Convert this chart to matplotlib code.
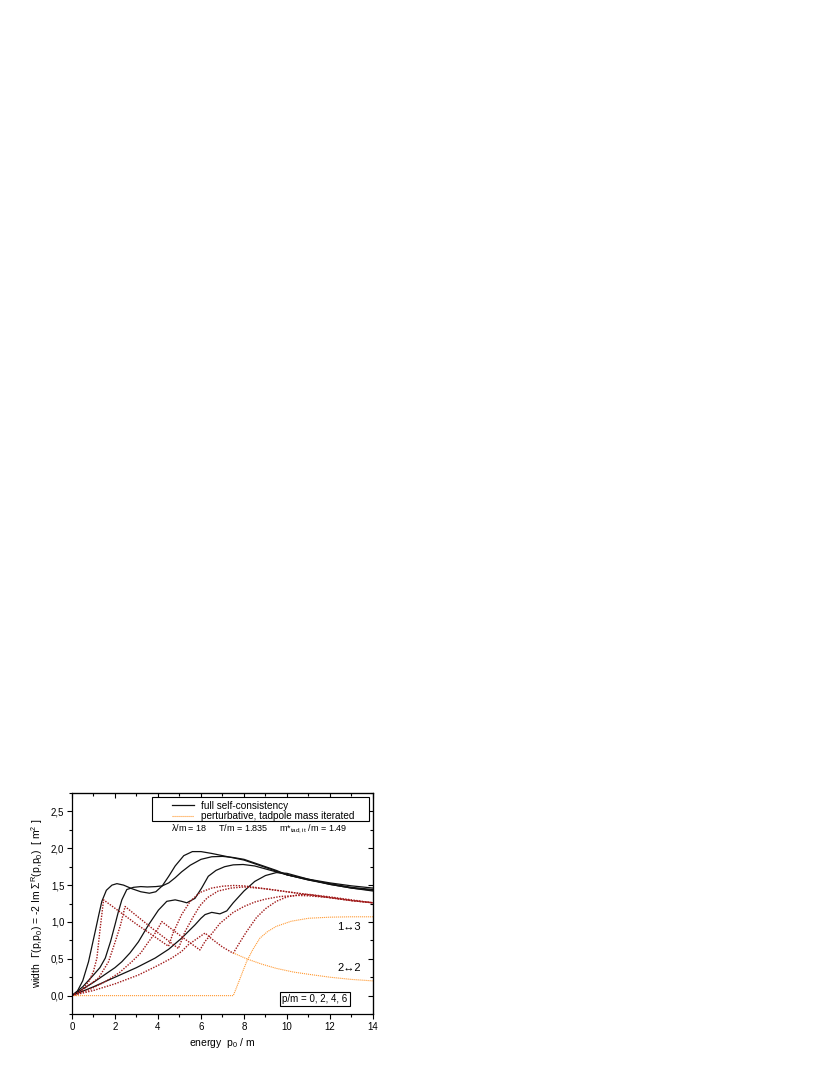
import numpy as np
import matplotlib.pyplot as plt
from matplotlib.patches import Rectangle
from matplotlib.ticker import MultipleLocator, FuncFormatter

plt.rcParams['font.family'] = ['Liberation Sans', 'DejaVu Sans']
plt.rcParams['mathtext.default'] = 'regular'

# full self-consistency, p/m = 0, 2, 4, 6
x_sc0 = [0, 0.25, 0.5, 0.77, 1.08, 1.25, 1.39, 1.6, 1.86, 2.09, 2.4, 2.8, 3.2, 3.6, 3.9, 4.2, 4.5, 4.8, 5.2, 5.6,
         6.0, 6.5, 7, 7.5, 8, 8.5, 9, 9.5, 10, 11, 12, 13, 14]
y_sc0 = [0, 0.06, 0.20, 0.46, 0.87, 1.10, 1.28, 1.43, 1.50, 1.52, 1.50, 1.45, 1.41, 1.39, 1.41, 1.49, 1.62, 1.76, 1.90, 1.955,
         1.955, 1.93, 1.90, 1.87, 1.84, 1.79, 1.74, 1.69, 1.64, 1.58, 1.53, 1.49, 1.46]
x_sc2 = [0, 0.5, 1.0, 1.3, 1.55, 1.8, 2.0, 2.15, 2.32, 2.55, 2.86, 3.2, 3.5, 3.9, 4.2, 4.5, 4.8, 5.1, 5.5, 6.0,
         6.5, 7, 7.5, 8, 8.5, 9, 9.5, 10, 11, 12, 13, 14]
y_sc2 = [0, 0.12, 0.28, 0.38, 0.51, 0.74, 0.96, 1.13, 1.30, 1.44, 1.47, 1.48, 1.475, 1.48, 1.49, 1.53, 1.60, 1.68, 1.77, 1.85,
         1.885, 1.89, 1.875, 1.85, 1.80, 1.75, 1.70, 1.64, 1.57, 1.52, 1.47, 1.44]
x_sc4 = [0, 1, 2, 2.32, 2.7, 3.09, 3.56, 4.02, 4.41, 4.8, 5.1, 5.34, 5.72, 6.03, 6.34, 6.7, 7.1, 7.5, 7.96, 8.5,
         9, 10, 11, 12, 13, 14]
y_sc4 = [0, 0.18, 0.38, 0.46, 0.58, 0.73, 0.96, 1.16, 1.28, 1.30, 1.28, 1.26, 1.32, 1.46, 1.62, 1.70, 1.75, 1.775, 1.78, 1.76,
         1.72, 1.64, 1.57, 1.51, 1.46, 1.43]
x_sc6 = [0, 1, 2, 3, 3.87, 4.5, 5.1, 5.72, 6.0, 6.19, 6.5, 6.88, 7.2, 7.5, 8.0, 8.5, 9.0, 9.5, 10, 11, 12, 13, 14]
y_sc6 = [0, 0.12, 0.25, 0.38, 0.51, 0.63, 0.78, 0.96, 1.05, 1.10, 1.13, 1.11, 1.15, 1.26, 1.42, 1.55, 1.63, 1.67, 1.66,
         1.58, 1.51, 1.46, 1.42]

# perturbative (2<->2 + 1<->3), p/m = 0, 2, 4, 6
x_pt0 = [0, 0.4, 0.8, 1.0, 1.16, 1.31, 1.47, 3.0, 4.49, 4.7, 5.1, 5.5, 5.95, 6.5, 7.0, 7.5, 8, 9, 10, 11, 12, 13, 14]
y_pt0 = [0, 0.05, 0.20, 0.33, 0.51, 0.91, 1.30, 0.97, 0.67, 0.85, 1.10, 1.28, 1.40, 1.46, 1.485, 1.495, 1.49, 1.45,
         1.41, 1.37, 1.33, 1.29, 1.26]
x_pt2 = [0, 0.6, 1.24, 1.7, 2.01, 2.25, 2.47, 3.7, 4.95, 5.26, 5.6, 5.95, 6.3, 6.8, 7.4, 8, 9, 10, 11, 12, 13, 14]
y_pt2 = [0, 0.10, 0.24, 0.46, 0.73, 0.95, 1.21, 0.92, 0.64, 0.87, 1.05, 1.22, 1.33, 1.42, 1.46, 1.475, 1.45, 1.41,
         1.37, 1.33, 1.29, 1.26]
x_pt4 = [0, 0.8, 1.55, 2.2, 2.78, 3.2, 3.56, 3.9, 4.18, 5.1, 5.95, 6.2, 6.5, 6.88, 7.5, 8, 8.5, 9, 9.67, 10.5, 11,
         12, 13, 14]
y_pt4 = [0, 0.08, 0.19, 0.31, 0.46, 0.58, 0.73, 0.86, 1.005, 0.80, 0.62, 0.74, 0.84, 0.98, 1.13, 1.21, 1.27, 1.31,
         1.345, 1.36, 1.355, 1.33, 1.29, 1.26]
x_pt6 = [0, 1, 2, 3.09, 4, 4.64, 5.1, 5.41, 5.8, 6.19, 6.5, 7.0, 7.5, 7.8, 8.1, 8.58, 9.0, 9.5, 10, 10.6, 11, 12, 13, 14]
y_pt6 = [0, 0.07, 0.16, 0.28, 0.41, 0.51, 0.60, 0.69, 0.77, 0.85, 0.77, 0.66, 0.575, 0.72, 0.86, 1.06, 1.18, 1.28,
         1.34, 1.37, 1.375, 1.34, 1.30, 1.26]

# perturbative, tadpole mass iterated (orange)
x_13 = [0, 7.5, 7.6, 7.8, 8.12, 8.4, 8.74, 9.1, 9.5, 10.2, 11, 12, 13, 14]
y_13 = [0, 0, 0.07, 0.22, 0.46, 0.62, 0.78, 0.87, 0.94, 1.01, 1.05, 1.065, 1.07, 1.07]
x_22 = [7.5, 8.12, 8.8, 9.5, 10.3, 11, 12, 13, 14]
y_22 = [0.58, 0.50, 0.43, 0.37, 0.32, 0.29, 0.25, 0.22, 0.20]

black = '#111111'
red = '#a01818'
orange = '#ff9a33'

fig = plt.figure(figsize=(8.3, 10.75), dpi=100)
ax = fig.add_axes([0.0867, 0.0567, 0.3627, 0.2056])

for xs, ys in [(x_sc0, y_sc0), (x_sc2, y_sc2), (x_sc4, y_sc4), (x_sc6, y_sc6)]:
    ax.plot(xs, ys, color=black, lw=0.9)
for xs, ys in [(x_pt0, y_pt0), (x_pt2, y_pt2), (x_pt4, y_pt4), (x_pt6, y_pt6)]:
    ax.plot(xs, ys, color=red, lw=1.0, ls=(0, (1, 1)))
ax.plot(x_13, y_13, color=orange, lw=0.8, ls=(0, (1, 0.8)))
ax.plot(x_22, y_22, color=orange, lw=0.8, ls=(0, (1, 0.8)))

ax.set_xlim(0, 14)
ax.set_ylim(-0.25, 2.75)
ax.xaxis.set_major_locator(MultipleLocator(2))
ax.xaxis.set_minor_locator(MultipleLocator(1))
ax.yaxis.set_major_locator(MultipleLocator(0.5))
ax.yaxis.set_minor_locator(MultipleLocator(0.25))
ax.yaxis.set_major_formatter(FuncFormatter(lambda v, p: f'{v:.1f}'.replace('.', ',')))
ax.tick_params(which='major', direction='out', length=3.5, width=0.8, labelsize=7, pad=2)
ax.tick_params(which='minor', direction='out', length=2, width=0.8)
for s in ax.spines.values():
    s.set_linewidth(0.9)

top = ax.secondary_xaxis('top')
top.xaxis.set_major_locator(MultipleLocator(2))
top.xaxis.set_minor_locator(MultipleLocator(1))
top.tick_params(which='major', direction='in', length=3.5, width=0.8, labeltop=False)
top.tick_params(which='minor', direction='in', length=2, width=0.8)
right = ax.secondary_yaxis('right')
right.yaxis.set_major_locator(MultipleLocator(0.5))
right.yaxis.set_minor_locator(MultipleLocator(0.25))
right.tick_params(which='major', direction='in', length=3.5, width=0.8, labelright=False)
right.tick_params(which='minor', direction='in', length=2, width=0.8)

ax.set_xlabel('energy  p$_0$ / m', fontsize=7.5, labelpad=3)
ax.set_ylabel('width  Γ(p,p$_0$) = -2 Im Σ$^R$(p,p$_0$)  [ m$^2$ ]', fontsize=7.5, labelpad=4)

# legend box and entries
ax.add_patch(Rectangle((0.266, 0.873), 0.721, 0.109, transform=ax.transAxes,
                       fc='white', ec='black', lw=0.8, zorder=5))
h1, = ax.plot([], [], color=black, lw=0.9)
h2, = ax.plot([], [], color=orange, lw=0.8, ls=(0, (1, 0.8)))
leg = ax.legend([h1, h2], ['full self-consistency', 'perturbative, tadpole mass iterated'],
                loc='upper left', bbox_to_anchor=(0.331, 0.965), borderaxespad=0,
                fontsize=7.2, frameon=False, borderpad=0, labelspacing=0.05,
                handlelength=2.2, handletextpad=0.75)
leg.set_zorder(6)

ax.text(0.623, 0.837, 'λ/m = 18     T/m = 1.835     m*$_{tad,it}$ /m = 1.49',
        transform=ax.transAxes, fontsize=6.5, ha='center', va='center')
ax.text(12.35, 0.93, '1↔3', fontsize=8, ha='left', va='center')
ax.text(12.35, 0.376, '2↔2', fontsize=8, ha='left', va='center')
ax.text(11.3, -0.045, 'p/m = 0, 2, 4, 6', fontsize=7, ha='center', va='center',
        bbox=dict(boxstyle='square,pad=0.25', fc='white', ec='black', lw=0.8))

fig.savefig('out.png', dpi=100)
